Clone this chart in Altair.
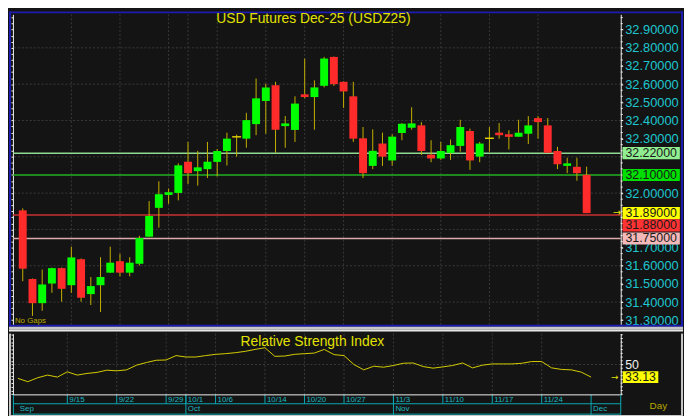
import altair as alt
import pandas as pd

# ---------------- data ----------------
opens = [31.905, 31.527, 31.394, 31.502, 31.587, 31.493, 31.636, 31.444, 31.493, 31.562,
         31.625, 31.562, 31.611, 31.760, 31.919, 31.990, 32.001, 32.173, 32.121, 32.132,
         32.172, 32.232, 32.310, 32.300, 32.380, 32.507, 32.594, 32.369, 32.348, 32.544,
         32.529, 32.591, 32.750, 32.613, 32.533, 32.302, 32.150, 32.273, 32.180, 32.331,
         32.360, 32.373, 32.212, 32.191, 32.222, 32.260, 32.342, 32.201, 32.302, 32.333,
         32.324, 32.310, 32.327, 32.413, 32.373, 32.232, 32.150, 32.145, 32.101]
highs = [31.916, 31.530, 31.579, 31.590, 31.590, 31.705, 31.640, 31.538, 31.647, 31.705,
         31.666, 31.647, 31.765, 31.956, 32.065, 32.025, 32.164, 32.282, 32.233, 32.282,
         32.243, 32.333, 32.322, 32.442, 32.631, 32.602, 32.613, 32.424, 32.533, 32.741,
         32.621, 32.750, 32.752, 32.615, 32.613, 32.364, 32.351, 32.333, 32.324, 32.385,
         32.473, 32.391, 32.291, 32.282, 32.295, 32.404, 32.355, 32.282, 32.364, 32.386,
         32.346, 32.404, 32.424, 32.424, 32.413, 32.255, 32.195, 32.195, 32.146]
lows = [31.515, 31.324, 31.352, 31.451, 31.402, 31.451, 31.402, 31.384, 31.345, 31.560,
        31.542, 31.542, 31.602, 31.758, 31.810, 31.941, 31.960, 32.050, 32.041, 32.083,
        32.092, 32.152, 32.201, 32.250, 32.319, 32.327, 32.222, 32.250, 32.282, 32.522,
        32.349, 32.582, 32.591, 32.469, 32.282, 32.083, 32.132, 32.150, 32.152, 32.291,
        32.349, 32.210, 32.170, 32.183, 32.183, 32.228, 32.128, 32.170, 32.228, 32.300,
        32.240, 32.310, 32.270, 32.300, 32.222, 32.132, 32.110, 32.068, 31.890]
closes = [31.584, 31.394, 31.497, 31.587, 31.473, 31.646, 31.424, 31.488, 31.538, 31.617,
          31.562, 31.617, 31.753, 31.874, 31.994, 32.005, 32.153, 32.110, 32.142, 32.173,
          32.232, 32.300, 32.310, 32.402, 32.522, 32.582, 32.349, 32.384, 32.493, 32.529,
          32.582, 32.741, 32.600, 32.560, 32.300, 32.110, 32.233, 32.201, 32.311, 32.382,
          32.384, 32.232, 32.191, 32.232, 32.264, 32.364, 32.180, 32.273, 32.302, 32.319,
          32.310, 32.333, 32.373, 32.391, 32.222, 32.159, 32.164, 32.110, 31.890]
rsi = [31.4, 26.9, 32.2, 35.8, 33.1, 40.2, 35.8, 38.0, 39.4, 42.4,
       41.5, 42.8, 49.1, 52.7, 55.7, 56.1, 62.0, 60.1, 60.1, 62.0,
       63.7, 64.6, 65.9, 67.7, 70.3, 72.6, 61.0, 61.4, 63.7, 64.6,
       65.4, 70.3, 63.3, 62.0, 50.0, 42.8, 47.7, 46.4, 48.7, 51.7,
       52.1, 47.3, 45.1, 46.8, 48.7, 52.1, 45.5, 49.1, 50.8, 50.8,
       50.8, 51.7, 54.0, 54.0, 45.5, 43.4, 42.8, 39.8, 33.13]

date_tick_idx = [5, 10, 15, 17, 20, 25, 29, 33, 38, 43, 48, 53]
date_tick_lbl = ["9/15", "9/22", "9/29", "10/1", "10/6", "10/14", "10/20",
                 "10/27", "11/3", "11/10", "11/17", "11/24"]
month_idx = [0, 17, 38, 58]
month_lbl = ["Sep", "Oct", "Nov", "Dec"]

level_vals = [32.22, 32.10, 31.88, 31.75]          # horizontal lines
price_labels = [31.3, 31.4, 31.5, 31.6, 31.7, 31.8, 31.9, 32.0, 32.1, 32.2,
                32.3, 32.4, 32.5, 32.6, 32.7, 32.8, 32.9]
price_grid = [31.4, 31.6, 31.8, 32.0, 32.2, 32.4, 32.6, 32.8]
rsi_grid = [50]
rsi_label = [50]
rsi_ticks = [10, 15, 20, 25, 30, 35, 40, 45, 50, 55, 60, 65, 70, 75, 80, 85, 90]

last_close = closes[-1]
last_rsi = rsi[-1]

# ---------------- styles / layout ----------------
BG = "#141414"
BLUE = "#1c1cb0"
SEP = "#c8c8c8"
WHITE = "#f0f0f0"
CYAN = "#1ec6d0"
GRID = "#3a3a3a"
GREEN = "#00ff00"
RED = "#ff2b2b"
WICK = "#c4b000"
DOJI = "#e0d000"
YELLOW = "#e2e200"
OLIVE = "#b8a800"
TEAL = "#0aa8b0"
TEAL_TXT = "#1cb8c0"
DARK = "#1a1a1a"
FONT = "Liberation Sans"

LINE_COLORS = ["#8fd88f", "#22b022", "#c83030", "#dcaaaa"]
TAG_DOMAIN = [32.22, 32.10, 31.89, 31.88, 31.75]
TAG_COLORS = ["#90ee90", "#00e000", "#ffff00", "#ff3333", "#f4b8b8"]

W = 615
H_MAIN = 314
H_RSI = 62

YMIN, YMAX = 31.27551, 32.98435
PX_PER_UNIT = H_MAIN / (YMAX - YMIN)
TAG_SHIFT = 10.55
TAG_X = 645.8

xscale = alt.Scale(domain=[-0.5, 61.0], nice=False, zero=False)
yscale = alt.Scale(domain=[YMIN, YMAX], nice=False, zero=False)
rscale = alt.Scale(domain=[9.2, 91.6], nice=False, zero=False)

BOX = "M-1,-0.212L1,-0.212L1,0.212L-1,0.212Z"
BOX_S = "M-1,-0.333L1,-0.333L1,0.333L-1,0.333Z"

price_minor = [v for v in (round(31.3 + k / 30, 4) for k in range(-1, 51)) if YMIN < v < YMAX]

df = pd.DataFrame({"i": list(range(len(opens))), "open": opens, "high": highs,
                   "low": lows, "close": closes, "rsi": rsi})
df["dir"] = ["up" if c > o else ("down" if c < o else "flat") for o, c in zip(opens, closes)]

one = pd.DataFrame({"a": [0]})
ticks_df = pd.DataFrame({"i": date_tick_idx, "lbl": date_tick_lbl})
months_df = pd.DataFrame({"i": month_idx, "lbl": month_lbl})

X = alt.X("i:Q", scale=xscale, axis=None)

# price labels that sit behind the coloured value tags are not shown (as in the reference)
tag_centres = [level_vals[0], level_vals[1], last_close,
               level_vals[2] - TAG_SHIFT / PX_PER_UNIT, level_vals[3]]
shown_labels = [p for p in price_labels if all(abs(p - t) > 0.04 for t in tag_centres)]

left_axis = alt.Axis(orient="left", values=price_minor, labels=False, tickSize=2,
                     tickColor=WHITE, domainColor=WHITE, grid=False, title=None)
right_axis = alt.Axis(orient="right", values=shown_labels, format=".5f",
                      labelColor=CYAN, labelFont=FONT, labelFontSize=13, labelPadding=2,
                      labelOverlap=False, labelFlush=False, tickSize=2, tickColor=WHITE,
                      domainColor=WHITE, grid=False, title=None)


def band(color, x1, x2, y1, y2):
    """Filled frame strip (no stroke, so its bounds are exact)."""
    return alt.Chart(one).mark_rect(color=color, strokeWidth=0).encode(
        x=alt.value(x1), x2=alt.value(x2), y=alt.value(y1), y2=alt.value(y2))


def hrule(color, width, x1, x2, y):
    return alt.Chart(one).mark_rule(color=color, strokeWidth=width).encode(
        x=alt.value(x1), x2=alt.value(x2), y=alt.value(y))


def vrule(color, width, x, y1, y2):
    return alt.Chart(one).mark_rule(color=color, strokeWidth=width).encode(
        x=alt.value(x), y=alt.value(y1), y2=alt.value(y2))


# ---------------- main panel ----------------
gridh = alt.Chart(pd.DataFrame({"g": price_grid})).mark_rule(
    color=GRID, strokeDash=[2, 2], strokeWidth=1).encode(
    y=alt.Y("g:Q", scale=yscale, axis=None))
gridv = alt.Chart(ticks_df).mark_rule(color=GRID, strokeDash=[2, 2], strokeWidth=1).encode(x=X)

levels = alt.Chart(pd.DataFrame({"lv": level_vals})).mark_rule(strokeWidth=1.5).encode(
    y=alt.Y("lv:Q", scale=yscale, axis=None),
    color=alt.Color("lv:N", scale=alt.Scale(domain=level_vals, range=LINE_COLORS), legend=None))

wicks = alt.Chart(df).mark_rule(color=WICK, strokeWidth=1).encode(
    x=X, y=alt.Y("low:Q", scale=yscale, axis=left_axis), y2="high:Q")

bodies = alt.Chart(df).transform_filter("datum.open != datum.close").mark_bar(
    size=8, opacity=1).encode(
    x=X, y=alt.Y("open:Q", scale=yscale, axis=right_axis), y2="close:Q",
    color=alt.Color("dir:N", scale=alt.Scale(domain=["up", "down"], range=[GREEN, RED]), legend=None))

doji = alt.Chart(df).transform_filter("datum.open == datum.close").mark_tick(
    orient="horizontal", size=9, thickness=1.5, color=DOJI, opacity=1).encode(
    x=X, y=alt.Y("open:Q", scale=yscale, axis=None))

minor_right = alt.Chart(pd.DataFrame({"m": price_minor})).mark_tick(
    orient="horizontal", size=2, thickness=1, color=WHITE, opacity=1).encode(
    x=alt.value(W + 1), y=alt.Y("m:Q", scale=yscale, axis=None))

tags_df = pd.DataFrame({"v": [level_vals[0], level_vals[1], last_close, level_vals[3]]})
shifted_df = pd.DataFrame({"v": [level_vals[2]]})
tag_color = alt.Color("v:N", scale=alt.Scale(domain=TAG_DOMAIN, range=TAG_COLORS), legend=None)


def tag_layers(data, yoff):
    box = alt.Chart(data).mark_point(shape=BOX, filled=True, size=58 * 58, opacity=1,
                                     strokeWidth=0, yOffset=yoff).encode(
        x=alt.value(TAG_X), y=alt.Y("v:Q", scale=yscale, axis=None), color=tag_color)
    txt = alt.Chart(data).mark_text(color=DARK, font=FONT, fontSize=12.5, align="center",
                                    baseline="middle", yOffset=yoff).encode(
        x=alt.value(TAG_X), y=alt.Y("v:Q", scale=yscale, axis=None),
        text=alt.Text("v:Q", format=".5f"))
    return [box, txt]


arrow = alt.Chart(pd.DataFrame({"v": [last_close]})).mark_text(
    text="→", color=YELLOW, fontSize=10, font="DejaVu Sans", align="center", baseline="middle").encode(
    x=alt.value(611), y=alt.Y("v:Q", scale=yscale, axis=None))

title = alt.Chart(one).mark_text(text="USD Futures Dec-25 (USDZ25)", color=YELLOW, font=FONT,
                                 fontSize=14, align="center", baseline="middle").encode(
    x=alt.value(304), y=alt.value(4.5))
nogaps = alt.Chart(one).mark_text(text="No Gaps", color=OLIVE, font=FONT, fontSize=8,
                                  align="left", baseline="middle").encode(
    x=alt.value(2), y=alt.value(310.5))

borders = [
    band(BLUE, -4, 678, -3, -1),      # top
    band(BLUE, -4, 678, 314, 316),    # bottom
    band(BLUE, -4, -2, -3, 316),      # left
    band(BLUE, 676, 678, -3, 316),    # right
    band(SEP, -4, 678, 316, 319),
    band("#e8e8e8", -4, 678, 319, 321),
]

main = alt.layer(
    gridh, gridv, levels, wicks, bodies, doji, minor_right,
    *tag_layers(tags_df, 0), *tag_layers(shifted_df, TAG_SHIFT),
    arrow, *borders, nogaps, title,
).properties(width=W, height=H_MAIN).resolve_axis(y="independent").resolve_scale(color="independent")

# ---------------- RSI panel ----------------
rsi_left = alt.Axis(orient="left", values=rsi_ticks, labels=False, tickSize=2,
                    tickColor=WHITE, domainColor=WHITE, grid=False, title=None)
rsi_right = alt.Axis(orient="right", values=rsi_label, labelColor=WHITE,
                     labelFont=FONT, labelFontSize=12.5, labelPadding=2, labelOverlap=False,
                     labelFlush=False, tickSize=2, tickColor=WHITE, domainColor=WHITE,
                     grid=False, title=None)

r_gridv = alt.Chart(ticks_df).mark_rule(color=GRID, strokeDash=[2, 2], strokeWidth=1).encode(x=X)
r_gridh = alt.Chart(pd.DataFrame({"g": rsi_grid})).mark_rule(
    color=GRID, strokeDash=[2, 2], strokeWidth=1).encode(y=alt.Y("g:Q", scale=rscale, axis=None))
r_line = alt.Chart(df).mark_line(color="#d4cc00", strokeWidth=1).encode(
    x=X, y=alt.Y("rsi:Q", scale=rscale, axis=rsi_left))
r_minor = alt.Chart(pd.DataFrame({"m": rsi_ticks})).mark_tick(
    orient="horizontal", size=2, thickness=1, color=WHITE, opacity=1).encode(
    x=alt.value(W + 1), y=alt.Y("m:Q", scale=rscale, axis=rsi_right))
last_df = pd.DataFrame({"v": [last_rsi]})
r_box = alt.Chart(last_df).mark_point(shape=BOX_S, filled=True, size=1296, opacity=1,
                                      strokeWidth=0, color="#ffff00").encode(
    x=alt.value(635), y=alt.Y("v:Q", scale=rscale, axis=None))
r_txt = alt.Chart(last_df).mark_text(color=DARK, font=FONT, fontSize=12.5, align="center",
                                     baseline="middle").encode(
    x=alt.value(635), y=alt.Y("v:Q", scale=rscale, axis=None),
    text=alt.Text("v:Q", format=".2f"))
r_arrow = alt.Chart(last_df).mark_text(text="→", color=YELLOW, fontSize=9, font="DejaVu Sans",
                                       align="center", baseline="middle").encode(
    x=alt.value(609), y=alt.Y("v:Q", scale=rscale, axis=None))
r_title = alt.Chart(one).mark_text(text="Relative Strength Index", color=YELLOW, font=FONT,
                                   fontSize=14, align="center", baseline="middle").encode(
    x=alt.value(303), y=alt.value(9))

d_rules = alt.Chart(ticks_df).mark_rule(color=TEAL, strokeWidth=1).encode(
    x=X, y=alt.value(62), y2=alt.value(71))
d_text = alt.Chart(ticks_df).mark_text(color=TEAL_TXT, font=FONT, fontSize=8, align="left",
                                       baseline="middle", dx=2).encode(
    x=X, y=alt.value(67), text="lbl:N")
m_rules = alt.Chart(months_df).transform_filter("datum.i > 0").mark_rule(
    color=TEAL, strokeWidth=1).encode(x=X, y=alt.value(62), y2=alt.value(82))
m_text = alt.Chart(months_df).mark_text(color=TEAL_TXT, font=FONT, fontSize=8, align="left",
                                        baseline="middle", dx=2).encode(
    x=X, y=alt.value(76.5), text="lbl:N")
day = alt.Chart(one).mark_text(text="Day", color=OLIVE, font=FONT, fontSize=10,
                               align="center", baseline="middle").encode(
    x=alt.value(653), y=alt.value(73))

r_frame = [
    hrule(WHITE, 1, 0, W, 62),
    hrule(TEAL, 1, 0, W, 71),
    hrule(TEAL, 1, 0, W, 81.5),
    vrule(TEAL, 1, 0.5, 62, 82),
    vrule(TEAL, 1, W, 62, 82),
    band(SEP, -4, -2, 0, 84),
    band(SEP, 676, 678, 0, 84),
    band(SEP, -4, 678, 82.5, 84),
]

rsi_chart = alt.layer(
    r_gridv, r_gridh, r_line, r_minor, r_box, r_txt, r_arrow, r_title,
    d_rules, d_text, m_rules, m_text, day, *r_frame,
).properties(width=W, height=H_RSI).resolve_axis(y="independent")

chart = alt.vconcat(main, rsi_chart, spacing=0).properties(
    padding=0, background=BG
).configure_view(stroke="transparent")

chart.save("out.html", embed_options={"renderer": "svg", "actions": False})
